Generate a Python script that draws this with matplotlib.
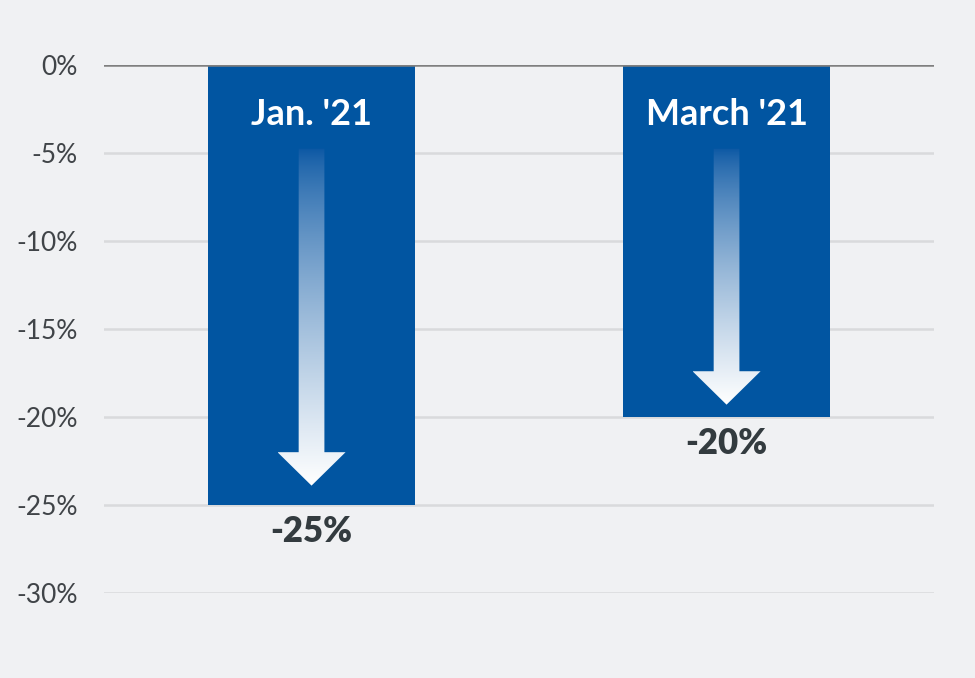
import matplotlib.pyplot as plt
import numpy as np
from matplotlib.patches import Polygon

plt.rcParams['font.family'] = ['Lato', 'DejaVu Sans']

# data
periods = ["Jan. '21", "March '21"]
changes = [-25, -20]
arrow_tips = [-23.9, -19.3]
yticks = [0, -5, -10, -15, -20, -25, -30]
ytick_labels = ['0%', '-5%', '-10%', '-15%', '-20%', '-25%', '-30%']

bg = '#f0f1f3'
bar_color = '#0155a1'
text_dark = '#333b3f'

fig = plt.figure(figsize=(9.75, 6.78), dpi=100, facecolor=bg)
ax = fig.add_axes([0.1067, 0.1254, 0.8513, 0.7787])
ax.set_facecolor(bg)

x = np.arange(len(periods))
ax.bar(x, changes, width=0.5, color=bar_color, zorder=2)

# gridlines
for t in yticks:
    if t == 0:
        ax.axhline(t, color='#7f7f7f', lw=1.8, zorder=3)
    else:
        ax.axhline(t, color='#d9dadc', lw=1.8, zorder=1)

# gradient arrows inside bars
grad = np.linspace(0, 1, 256)
c_top = np.array([0.04, 0.34, 0.64])
c_bot = np.array([1.0, 1.0, 1.0])
img = np.zeros((256, 1, 3))
for k in range(3):
    img[:, 0, k] = c_top[k] + (c_bot[k] - c_top[k]) * grad ** 0.75

shaft_w = 0.031
head_w = 0.082
head_len = 1.9
for xi, tip in zip(x, arrow_tips):
    top = -4.75
    base = tip + head_len
    pts = [(xi - shaft_w, top), (xi + shaft_w, top), (xi + shaft_w, base),
           (xi + head_w, base), (xi, tip), (xi - head_w, base), (xi - shaft_w, base)]
    poly = Polygon(pts, closed=True, facecolor='none', edgecolor='none', zorder=4)
    ax.add_patch(poly)
    im = ax.imshow(img, extent=[xi - head_w, xi + head_w, tip, top],
                   origin='upper', aspect='auto', zorder=4, interpolation='bilinear')
    im.set_clip_path(poly)

# labels
for xi, p, v in zip(x, periods, changes):
    ax.text(xi, -2.8, p, ha='center', va='center', color='white',
            fontsize=26, fontweight='bold', zorder=5)
    ax.text(xi, v - 1.5, f'{v}%', ha='center', va='center', color=text_dark,
            fontsize=25, fontweight='heavy', zorder=5)

ax.set_xlim(-0.5, 1.5)
ax.set_ylim(-30, 0)
ax.set_yticks(yticks)
ax.set_yticklabels(ytick_labels, fontsize=19, color='#404448')
ax.set_xticks([])
ax.tick_params(axis='y', length=0, pad=19)
for s in ax.spines.values():
    s.set_visible(False)

fig.savefig('out.png', dpi=100, facecolor=bg)
